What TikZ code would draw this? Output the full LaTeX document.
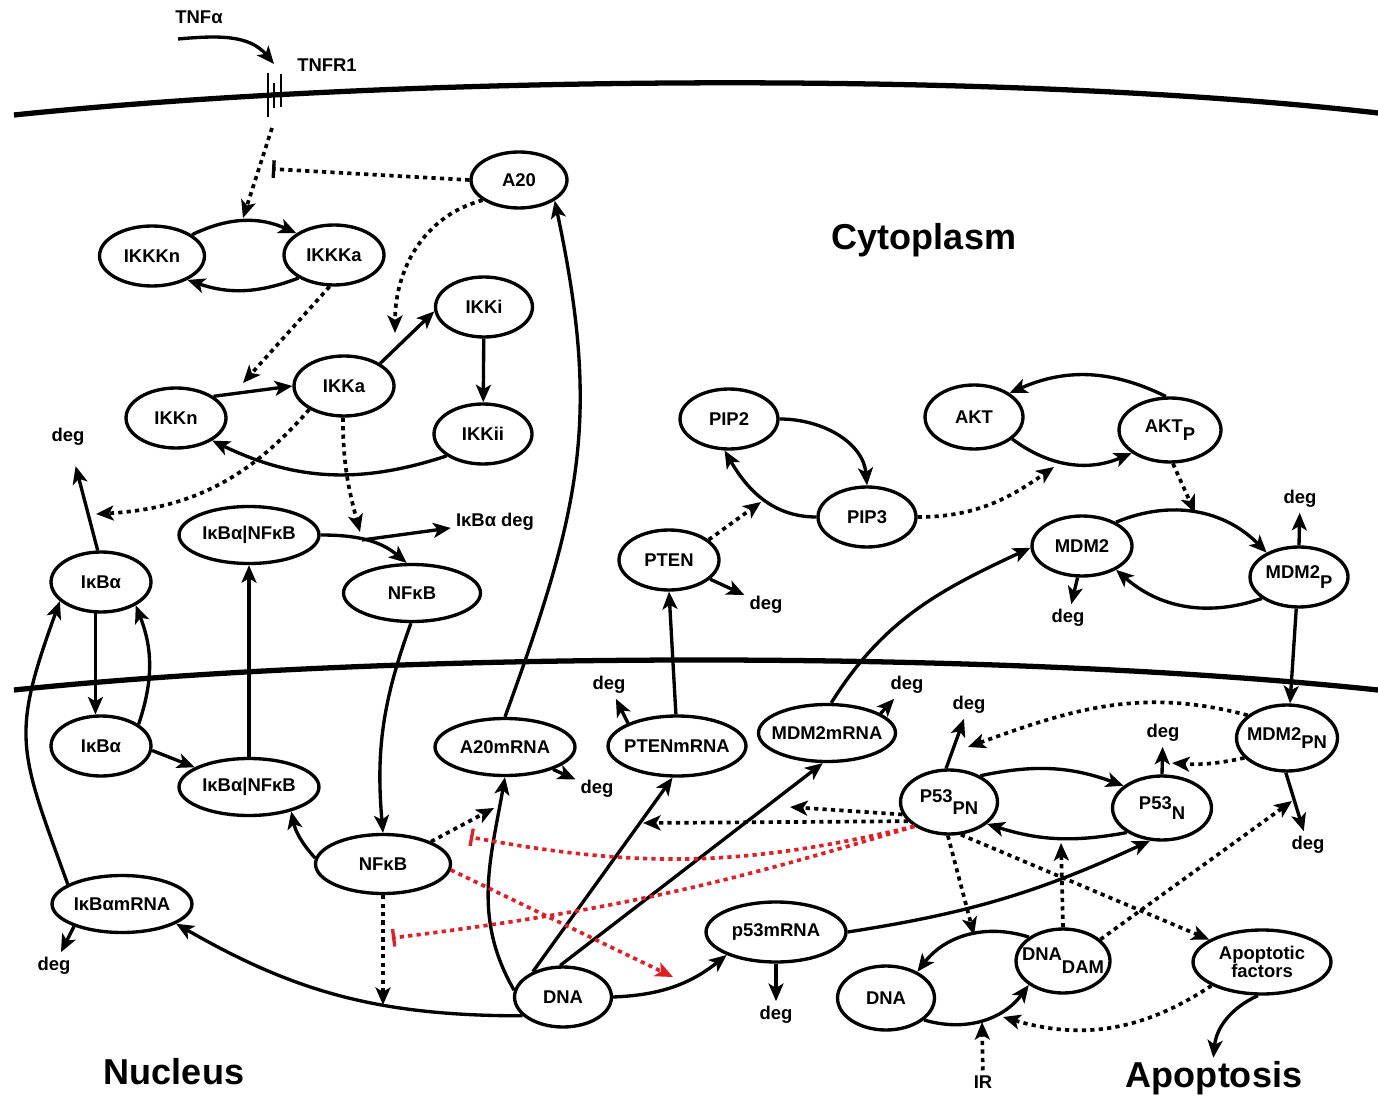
\documentclass[tikz,border=0pt]{standalone}
\usepackage{fontspec}
\setmainfont{Liberation Sans}
\usetikzlibrary{arrows.meta, shapes.geometric}
\definecolor{inhred}{RGB}{226,30,36}
\newcommand{\lowsub}[2][0.5em]{\raisebox{-#1}{#2}}

\begin{document}
\begin{tikzpicture}[x=0.02cm, y=0.02cm, line width=1.9pt,
    every node/.style={font=\bfseries\fontsize{10.5}{11}\selectfont},
    sp/.style={ellipse, draw, fill=white, line width=1.9pt, inner sep=-5pt, minimum width=2cm, minimum height=1.2cm},
    spw/.style={sp, minimum width=2.8cm, minimum height=1.14cm},
    lbl/.style={inner sep=2pt},
    big/.style={font=\bfseries\fontsize{20.5}{23}\selectfont, inner sep=1pt},
    arr/.style={-{Stealth[length=10pt, width=8.5pt, inset=2.5pt]}},
    dotline/.style={line width=2.1pt, dash pattern=on 2.4pt off 2.4pt},
    darr/.style={arr, dotline},
    dinh/.style={dotline, -{Bar[width=10pt, line width=1.9pt]}},
    rinh/.style={dinh, inhred},
    rarr/.style={darr, inhred},
    memb/.style={line width=3pt}]
\useasboundingbox (0,0) rectangle (1378,-1097);

% membranes and receptor
\draw[memb] (14,-115) .. controls (400,-75) and (1000,-70) .. (1378,-113);
\draw[memb] (14,-690) .. controls (400,-650) and (1000,-650) .. (1378,-690);
\draw[line width=1.6pt] (268,-73) -- (268,-117) (274,-83) -- (274,-108) (281,-74) -- (281,-107);

\node[lbl] (tnf) at (199,-17) {TNFα};
\node[lbl] (tnfr) at (327,-65) {TNFR1};
\node[big] (cyto) at (924,-240) {Cytoplasm};
\node[big] (nucl) at (174,-1072) {Nucleus};
\node[big] (apop) at (1214,-1078) {Apoptosis};

% cytoplasm
\node[sp, minimum width=1.92cm, minimum height=1.12cm] (a20) at (519,-180) {A20};
\node[sp, minimum width=2.1cm] (ikkkn) at (152,-256) {IKKKn};
\node[sp] (ikkka) at (334,-255) {IKKKa};
\node[sp, minimum width=1.94cm] (ikki) at (484,-307) {IKKi};
\node[sp] (ikka) at (344,-386) {IKKa};
\node[sp] (ikkn) at (176,-418) {IKKn};
\node[sp, minimum width=1.96cm] (ikkii) at (483,-434) {IKKii};
\node[lbl] (degikb) at (68,-437) {deg};
\node[sp] (ikbc) at (101,-582) {IκBα};
\node[spw] (ikbnfc) at (249,-535) {IκBα|NFκB};
\node[lbl] (ikbdeg) at (495,-522) {IκBα deg};
\node[spw, minimum width=2.74cm] (nfkbc) at (412,-593) {NFκB};
\node[sp] (pten) at (669,-560) {PTEN};
\node[lbl] (degpten) at (766,-605) {deg};
\node[sp, minimum width=1.96cm] (pip2) at (729,-419) {PIP2};
\node[sp, minimum width=1.96cm] (pip3) at (867,-517) {PIP3};
\node[sp, minimum width=1.96cm, minimum height=1.28cm] (akt) at (974,-417) {AKT};
\node[sp, minimum width=2.04cm, minimum height=1.28cm] (aktp) at (1170,-430) {AKT\lowsub[0.45em]{P}};
\node[sp] (mdm2) at (1082,-546) {MDM2};
\node[sp, minimum width=1.96cm] (mdm2p) at (1299,-577) {MDM2\lowsub{P}};
\node[lbl] (degmdmp) at (1300,-499) {deg};
\node[lbl] (degmdm) at (1068,-618) {deg};

% nucleus
\node[sp] (ikbn) at (101,-746) {IκBα};
\node[spw] (ikbnfn) at (249,-787) {IκBα|NFκB};
\node[spw] (a20m) at (505,-747) {A20mRNA};
\node[lbl] (dega20m) at (597,-789) {deg};
\node[spw, minimum width=2.76cm, minimum height=1.2cm] (ptenm) at (677,-746) {PTENmRNA};
\node[lbl] (degptenm) at (609,-685) {deg};
\node[spw, minimum width=2.74cm] (mdm2m) at (827,-733) {MDM2mRNA};
\node[lbl] (degmdmm) at (907,-685) {deg};
\node[sp, minimum width=2.02cm, minimum height=1.32cm] (mdm2pn) at (1287,-738) {MDM2\lowsub[0.4em]{PN}};
\node[lbl] (degmdmpn) at (1308,-845) {deg};
\node[sp, minimum width=1.94cm, minimum height=1.28cm] (p53pn) at (949,-802) {P53\lowsub[0.65em]{PN}};
\node[lbl] (degp53pn) at (969,-705) {deg};
\node[sp, minimum width=1.98cm, minimum height=1.28cm] (p53n) at (1162,-808) {P53\lowsub[0.55em]{N}};
\node[lbl] (degp53n) at (1163,-733) {deg};
\node[spw, minimum width=2.7cm, minimum height=1.18cm] (nfkbn) at (383,-864) {NFκB};
\node[spw] (ikbm) at (122,-904) {IκBαmRNA};
\node[lbl] (degikbm) at (54,-966) {deg};
\node[spw, minimum height=1.2cm] (p53m) at (776,-932) {p53mRNA};
\node[lbl] (degp53m) at (776,-1015) {deg};
\node[sp, minimum width=1.94cm] (dna1) at (563,-997) {DNA};
\node[sp, minimum width=1.94cm, minimum height=1.28cm] (dna2) at (886,-998) {DNA};
\node[sp, minimum width=1.88cm, minimum height=1.28cm] (dnadam) at (1063,-961) {DNA\lowsub[0.7em]{DAM}};
\node[spw, minimum width=2.76cm, minimum height=1.28cm, align=center,
      font=\bfseries\fontsize{10.5}{10.5}\selectfont] (apof) at (1262,-962) {Apoptotic\\factors};
\node[lbl] (ir) at (983,-1082) {IR};

% free ends
\coordinate (tnfs) at (178,-39);
\coordinate (rtop) at (274,-64);
\coordinate (rbot) at (272,-128);
\coordinate (kkin) at (243,-218);
\coordinate (a20t) at (272,-169);
\coordinate (kain) at (395,-333);
\coordinate (knin) at (243,-383);
\coordinate (idgin) at (96,-514);
\coordinate (nfin) at (360,-532);
\coordinate (ibr) at (362,-540);
\coordinate (ppin) at (761,-502);
\coordinate (akin) at (1054,-467);
\coordinate (mmin) at (1195,-513);
\coordinate (pdin) at (968,-747);
\coordinate (pnin) at (1172,-763);
\coordinate (nfdn) at (383,-1005);
\coordinate (a2in) at (494,-808);
\coordinate (mmrin) at (790,-807);
\coordinate (ptin) at (643,-823);
\coordinate (rin1) at (470,-837);
\coordinate (rin2) at (392,-938);
\coordinate (pmin) at (673,-977);
\coordinate (ddin) at (974,-935);
\coordinate (pnarc) at (1061,-843);
\coordinate (mdgin) at (1292,-801);
\coordinate (irin) at (982,-1022);
\coordinate (apin) at (1003,-1017);

% NF-kB module
\draw[arr] (tnfs) to[out=5, in=130] (rtop);
\draw[darr] (rbot) -- (kkin);
\draw[dinh] (a20.west) -- (a20t);
\draw[arr] (ikkkn.28) to[bend left=25] (ikkka.150);
\draw[arr] (ikkka.213) to[bend left=20] (ikkkn.326);
\draw[darr] (a20.209) to[out=195, in=90] (kain);
\draw[darr] (ikkka.262) -- (knin);
\draw[arr] (ikkn.30) -- (ikka.180);
\draw[arr] (ikka.32) -- (ikki.185);
\draw[arr] (ikki) -- (ikkii);
\draw[arr] (ikkii.211) to[bend left=22] (ikkn.328);
\draw[darr] (ikka.214) to[bend left=23] (idgin);
\draw[darr] (ikka.268) to[out=270, in=105] (nfin);
\draw[arr, shorten >=9pt] (ikbc.96) -- (degikb);
\draw[arr] (ikbnfc.east) to[out=0, in=140] (nfkbc.100);
\draw[arr] (ibr) -- (ikbdeg);
\draw[arr] (ikbc.260) -- (ikbn.100);
\draw[arr] (ikbn.30) to[bend right=20] (ikbc.326);
\draw[arr] (ikbnfn) -- (ikbnfc);
\draw[arr] (ikbn.355) -- (ikbnfn.160);
\draw[arr] (nfkbc.268) to[out=250, in=95] (nfkbn.north);
\draw[arr] (nfkbn.175) to[bend left=15] (ikbnfn.330);
\draw[arr] (ikbm.160) to[out=110, in=250, looseness=1.3] (ikbc.205);
\draw[arr] (ikbm.205) -- (degikbm);
\draw[arr] (dna1.205) to[out=180, in=330] (ikbm.340);
\draw[darr] (nfkbn.south) -- (nfdn);
\draw[darr] (nfkbn.25) -- (a2in);
\draw[arr] (dna1.172) to[out=120, in=260] (a20m.south);
\draw[arr] (a20m.north) to[out=70, in=282, looseness=1.1] (a20.330);
\draw[arr] (a20m.335) -- (dega20m);

% PTEN / AKT / MDM2
\draw[arr] (dna1.140) -- (ptenm.262);
\draw[arr] (ptenm.92) -- (pten.south);
\draw[arr] (ptenm.155) -- (degptenm);
\draw[darr] (pten.27) -- (ppin);
\draw[arr] (pten.335) -- (degpten);
\draw[arr] (pip2.east) to[out=0, in=95] (pip3.north);
\draw[arr] (pip3.west) to[out=180, in=300] (pip2.262);
\draw[darr] (pip3.east) to[out=0, in=215] (akin);
\draw[arr] (akt.330) to[bend right=30] (aktp.211);
\draw[arr] (aktp.97) to[bend right=25] (akt.34);
\draw[darr] (aktp.275) -- (mmin);
\draw[arr] (mdm2.35) to[bend left=34] (mdm2p.143);
\draw[arr] (mdm2p.210) to[bend left=30] (mdm2.325);
\draw[arr] (mdm2.262) -- (degmdm);
\draw[arr] (mdm2p.north) -- (degmdmp);
\draw[arr] (dna1.95) -- (mdm2m.262);
\draw[arr] (mdm2m.82) to[out=58, in=205] (mdm2.182);
\draw[arr] (mdm2m.20) -- (degmdmm);
\draw[arr] (mdm2p.265) -- (mdm2pn.85);
\draw[darr] (mdm2pn.150) to[out=165, in=20] (pdin);
\draw[darr] (mdm2pn.205) to[bend left=8] (pnin);
\draw[arr] (mdm2pn.268) -- (degmdmpn);

% p53 module
\draw[arr] (p53pn.95) -- (degp53pn);
\draw[arr] (p53n.north) -- (degp53n);
\draw[arr] (p53pn.40) to[bend left=16] (p53n.150);
\draw[arr] (p53n.215) to[bend left=14] (p53pn.330);
\draw[darr] (p53pn.195) -- (mmrin);
\draw[darr] (p53pn.205) -- (ptin);
\draw[rinh] (p53pn.215) to[bend left=12] (rin1);
\draw[rinh] (p53pn.215) to[bend left=5] (rin2);
\draw[rarr] (nfkbn.355) -- (pmin);
\draw[arr] (dna1.east) to[bend right=18] (p53m.205);
\draw[arr] (p53m.south) -- (degp53m);
\draw[arr] (p53m.east) to[bend right=8] (p53n.250);
\draw[darr] (p53pn.268) -- (ddin);
\draw[darr] (p53pn.290) -- (apof.157);
\draw[darr] (dnadam.north) -- (pnarc);
\draw[darr] (dnadam.30) -- (mdgin);
\draw[arr] (dnadam.145) to[bend right=35] (dna2.40);
\draw[arr] (dna2.330) to[bend right=35] (dnadam.215);
\draw[darr] (ir) -- (irin);
\draw[darr] (apof.205) to[bend left=25] (apin);
\draw[arr] (apof.263) to[bend right=30] (apop);
\end{tikzpicture}
\end{document}
